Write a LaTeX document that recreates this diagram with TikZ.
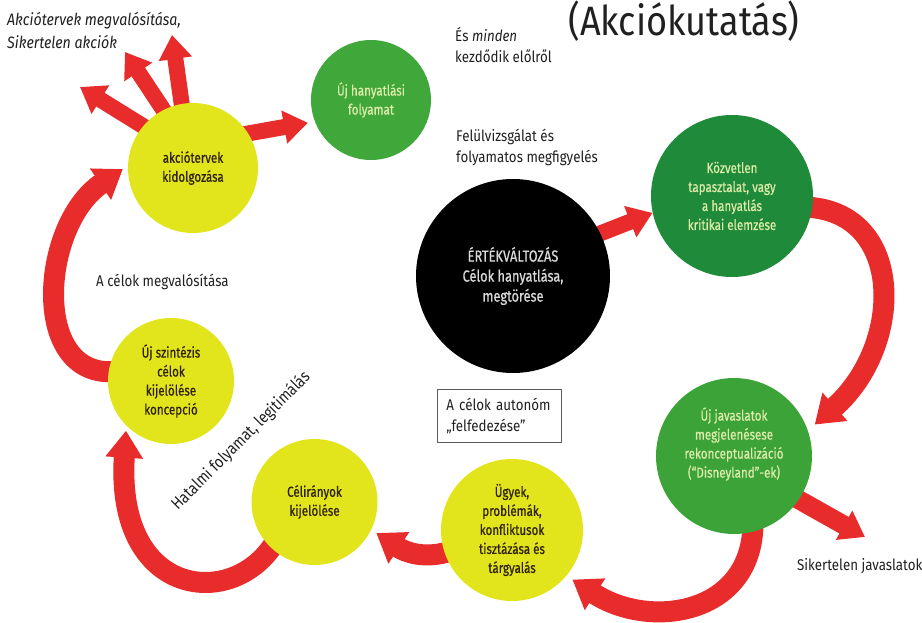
\documentclass[tikz,border=0pt]{standalone}
\usepackage{fontspec}
\setmainfont{Fira Sans}
\newfontfamily\titlefont[FakeStretch=0.88]{Fira Sans}
\newfontfamily\labelfont[FakeStretch=0.86]{Fira Sans}
\newfontfamily\bubblefont[FakeStretch=0.8,FakeBold=0.6]{Fira Sans}
\usetikzlibrary{arrows.meta,backgrounds}

\definecolor{arrowred}{RGB}{232,44,44}
\definecolor{leafgreen}{RGB}{64,168,58}
\definecolor{deepgreen}{RGB}{30,138,58}
\definecolor{midgreen}{RGB}{60,163,56}
\definecolor{bubbleyellow}{RGB}{226,229,28}
\definecolor{palegreen}{RGB}{222,236,170}
\definecolor{inkbrown}{RGB}{48,34,10}
\definecolor{softgray}{RGB}{218,218,218}
\definecolor{labelgray}{RGB}{32,32,32}
\definecolor{framegray}{RGB}{90,90,90}

\begin{document}
\begin{tikzpicture}[x=1pt,y=-1pt,
  bubble/.style={circle, inner sep=0pt, align=center,
    font=\bubblefont\fontsize{14.5}{19}\selectfont},
  yellowbubble/.style={bubble, fill=bubbleyellow, text=inkbrown},
  greenbubble/.style={bubble, text=palegreen},
  note/.style={inner sep=0pt, text=labelgray,
    font=\labelfont\fontsize{15.5}{21}\selectfont},
  flow/.style={draw=arrowred, line width=21pt,
    -{Triangle[width=36pt,length=27pt]}, shorten <=-8pt},
  spike/.style={draw=arrowred, line width=16pt,
    -{Triangle[width=32pt,length=24pt]}, shorten <=-8pt}]

\useasboundingbox (0,0) rectangle (922,623);

% bubbles of the cycle
\node[greenbubble, fill=leafgreen, minimum size=120pt] (hany) at (371,100)
  {Új hanyatlási\\folyamat};
\node[yellowbubble, minimum size=130pt] (akc) at (193,168)
  {akciótervek\\kidolgozása};
\node[yellowbubble, minimum size=126pt] (szin) at (171,381)
  {Új szintézis\\célok\\kijelölése\\koncepció};
\node[yellowbubble, minimum size=126pt] (cel) at (314.5,502)
  {Célirányok\\kijelölése};
\node[yellowbubble, minimum size=142pt] (ugy) at (512,530)
  {Ügyek,\\problémák,\\konfliktusok\\tisztázása és\\tárgyalás};
\node[greenbubble, fill=midgreen, minimum size=156pt] (jav) at (734,456)
  {Új javaslatok\\megjelenésese\\rekonceptualizáció\\(“Disneyland”-ek)\\[8pt]};
\node[greenbubble, fill=deepgreen, minimum size=162pt] (koz) at (732,196)
  {Közvetlen\\tapasztalat, vagy\\a hanyatlás\\kritikai elemzése};
\node[bubble, fill=black, text=softgray, minimum size=194pt,
  font=\bubblefont\fontsize{16}{20}\selectfont] (blk) at (513,276)
  {ÉRTÉKVÁLTOZÁS\\Célok hanyatlása,\\megtörése};

% free ends of the outgoing arrows
\coordinate (f1) at (80,87);
\coordinate (f2) at (125,52);
\coordinate (f3) at (172,35);
\coordinate (sk) at (865,537);

% captions
\node[inner sep=0pt, text=labelgray, font=\titlefont\fontsize{41}{41}\selectfont]
  (title) at (684,21) {(Akciókutatás)};
\node[note, anchor=north west, align=left,
  font=\labelfont\fontsize{16.5}{23}\selectfont] (act) at (7,12)
  {\itshape Akciótervek megvalósítása,\\\itshape Sikertelen akciók};
\node[note, anchor=north west, align=left] (again) at (455,27)
  {És \textit{minden}\\kezdődik előlről};
\node[note, anchor=north west, align=left] (review) at (456,129)
  {Felülvizsgálat és\\folyamatos megfigyelés};
\node[note, anchor=base west] (reach) at (96,286) {A célok megvalósítása};
\node[note, anchor=base west] (fail) at (797,570) {Sikertelen javaslatok};
\node[note, rotate=45, font=\labelfont\fontsize{16.5}{21}\selectfont]
  (power) at (241,441) {Hatalmi folyamat, legitimálás};
\node[note, draw=framegray, line width=0.8pt, anchor=north west, align=left,
  inner xsep=9pt, inner ysep=6pt, minimum height=53pt, text width=106pt]
  (auto) at (437,389) {A célok autonóm\\„felfedezése”};

% red arrows behind the bubbles
\begin{pgfonlayer}{background}
  \draw[spike, shorten >=7pt] (akc.32) -- (hany.201);
  \draw[spike] (akc.140) -- (f1);
  \draw[spike] (akc.117) -- (f2);
  \draw[spike] (akc.100) -- (f3);
  \draw[spike] (blk.26) -- (koz.192);
  \draw[spike, line width=19pt] (jav.326) -- (sk);
  \draw[flow, shorten >=6pt] (szin.172)
    .. controls (30,380) and (40,225) .. (akc.178);
  \draw[flow, shorten >=5pt] (cel.227)
    .. controls (235,610) and (115,600) .. (szin.225);
  \draw[flow, shorten >=6pt] (ugy.199)
    .. controls (425,560) and (405,552) .. (cel.334);
  \draw[flow, shorten >=7pt] (jav.284)
    .. controls (752,615) and (650,630) .. (ugy.320);
  \draw[flow, shorten >=9pt] (koz.352)
    .. controls (905,210) and (905,345) .. (jav.19);
\end{pgfonlayer}
\end{tikzpicture}
\end{document}
